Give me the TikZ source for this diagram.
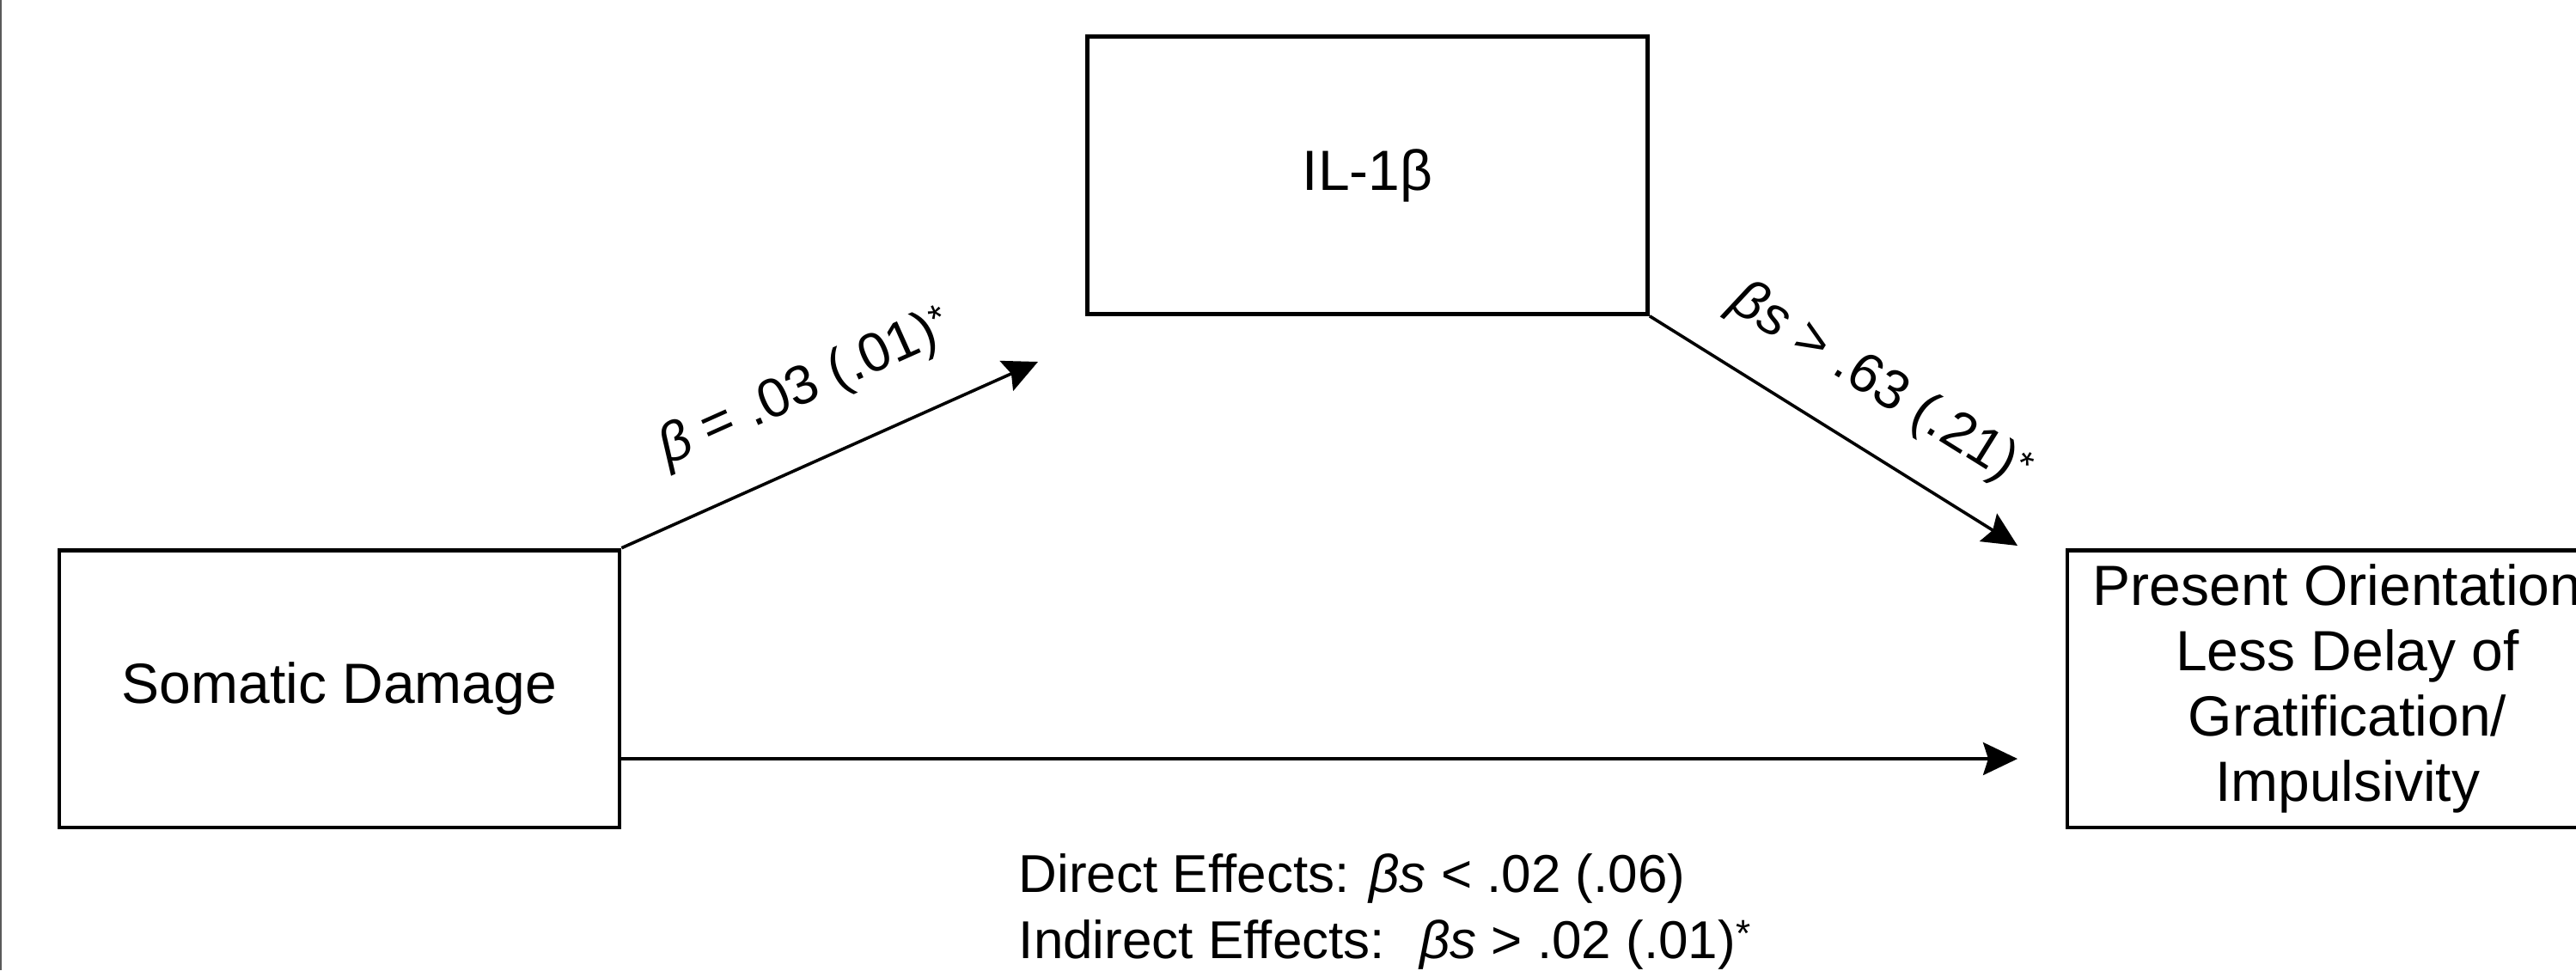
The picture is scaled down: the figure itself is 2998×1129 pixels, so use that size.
\documentclass[tikz,border=0pt]{standalone}
\usepackage{fontspec}
\setmainfont{Liberation Sans}
\usetikzlibrary{arrows.meta}
\definecolor{edgegray}{RGB}{90,90,90}
% small significance star, set near cap height
\newcommand\sigstar{\raisebox{0.22em}{\fontsize{11}{11}\selectfont *}}
\begin{document}
\begin{tikzpicture}[x=0.25pt,y=-0.25pt,
  box/.style={draw, line width=1.2pt, minimum width=163pt, minimum height=80.7pt,
    inner sep=0pt, align=center, font=\fontsize{16.5}{19}\selectfont},
  link/.style={line width=0.9pt, -{Stealth[length=10pt,width=9.5pt,inset=1.5pt]}},
  coef/.style={sloped, inner sep=0pt, font=\fontsize{16}{19}\selectfont},
  note/.style={anchor=base west, inner sep=0pt, font=\fontsize{15.5}{19}\selectfont}]
% canvas and left frame rule
\fill[white] (0,0) rectangle (2998,1129);
\useasboundingbox (0,0) rectangle (2998,1129);
\draw[edgegray, line width=0.5pt] (1,0) -- (1,1129);
\begin{scope}
\clip (0,0) rectangle (2998,1129);
% variables
\node[box] (sd) at (395,801.5) {Somatic Damage};
\node[box] (il) at (1591.5,204) {IL-1β};
\node[box] (po) at (2732,801.5) {\hspace*{-6pt}Present Orientation\\Less Delay of\\Gratification/\\Impulsivity};
% arrow end points
\coordinate (t1) at (1208,421);
\coordinate (t2) at (2348,635);
\coordinate (h0) at (0,883);
\coordinate (t3) at (2348,883);
% paths
\draw[link] (sd.north east) -- node[coef, pos=0.51, yshift=20.5pt] (c1)
  {\textit{β} = .03 (.01)\sigstar} (t1);
\draw[link] (il.south east) -- node[coef, pos=0.536, yshift=18pt] (c2)
  {\textit{βs} > .63 (.21)\sigstar} (t2);
\draw[link] (sd.east |- h0) -- (t3);
% effect summary
\node[note] (dir) at (1185,1038) {Direct Effects: \textit{βs} < .02 (.06)};
\node[note] (ind) at (1185,1115) {Indirect Effects: \ \textit{βs} > .02 (.01)\sigstar};
\end{scope}
\end{tikzpicture}
\end{document}
